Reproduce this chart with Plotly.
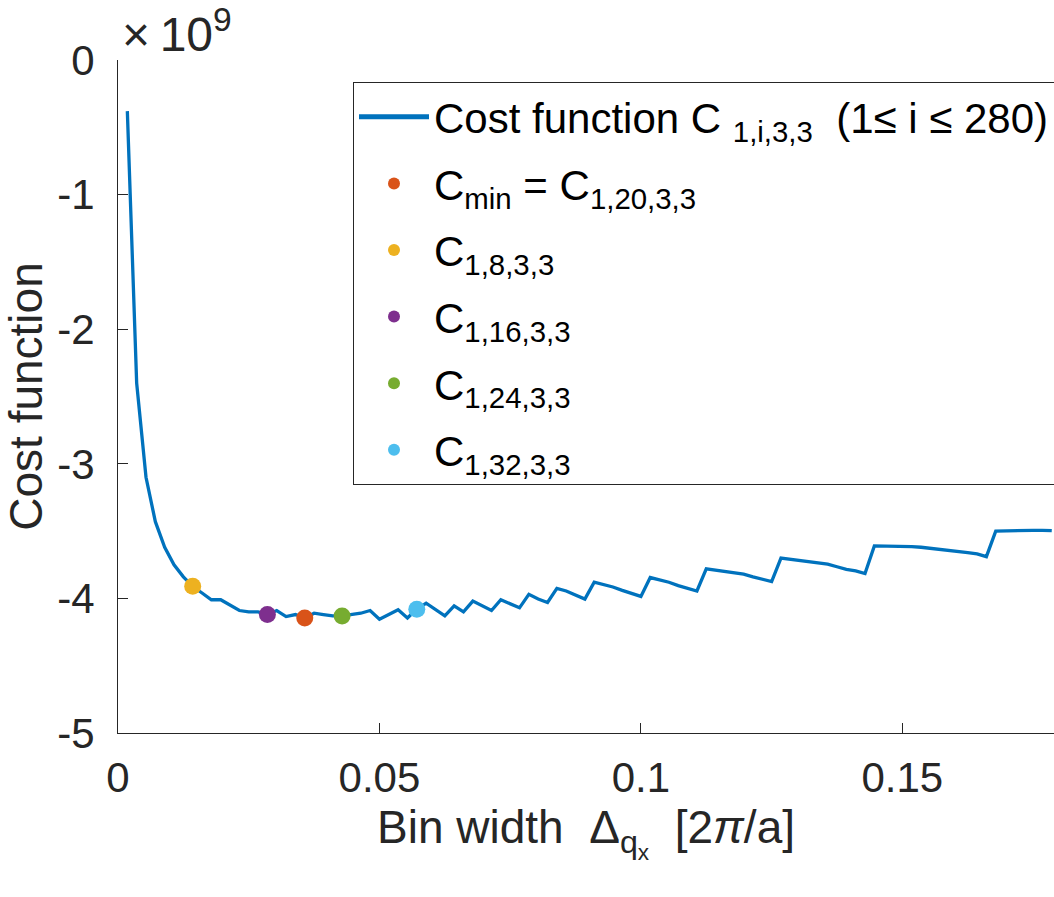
import plotly.graph_objects as go

# Bin width Δq_x [2π/a] for bin index i = 1..100 (visible part of 1..280)
bin_width = [
    0.001786, 0.003571, 0.005357, 0.007143, 0.008929, 0.010714, 0.012500, 0.014286, 0.016071, 0.017857,
    0.019643, 0.021429, 0.023214, 0.025000, 0.026786, 0.028571, 0.030357, 0.032143, 0.033929, 0.035714,
    0.037500, 0.039286, 0.041071, 0.042857, 0.044643, 0.046429, 0.048214, 0.050000, 0.051786, 0.053571,
    0.055357, 0.057143, 0.058929, 0.060714, 0.062500, 0.064286, 0.066071, 0.067857, 0.069643, 0.071429,
    0.073214, 0.075000, 0.076786, 0.078571, 0.080357, 0.082143, 0.083929, 0.085714, 0.087500, 0.089286,
    0.091071, 0.092857, 0.094643, 0.096429, 0.098214, 0.100000, 0.101786, 0.103571, 0.105357, 0.107143,
    0.108929, 0.110714, 0.112500, 0.114286, 0.116071, 0.117857, 0.119643, 0.121429, 0.123214, 0.125000,
    0.126786, 0.128571, 0.130357, 0.132143, 0.133929, 0.135714, 0.137500, 0.139286, 0.141071, 0.142857,
    0.144643, 0.146429, 0.148214, 0.150000, 0.151786, 0.153571, 0.155357, 0.157143, 0.158929, 0.160714,
    0.162500, 0.164286, 0.166071, 0.167857, 0.169643, 0.171429, 0.173214, 0.175000, 0.176786, 0.178571,
]

# Cost function C_{1,i,3,3} in units of 1e9
cost_1e9 = [
    -0.38, -2.40, -3.10, -3.43, -3.62, -3.75, -3.84, -3.91, -3.96, -4.01,
    -4.01, -4.05, -4.09, -4.10, -4.10, -4.12, -4.09, -4.135, -4.12, -4.145,
    -4.11, -4.12, -4.13, -4.13, -4.12, -4.11, -4.09, -4.155, -4.12, -4.085,
    -4.145, -4.08, -4.035, -4.08, -4.13, -4.055, -4.10, -4.02, -4.055, -4.09,
    -4.01, -4.04, -4.07, -3.97, -4.005, -4.03, -3.925, -3.945, -3.975, -4.005,
    -3.88, -3.895, -3.915, -3.94, -3.965, -3.985, -3.845, -3.86, -3.88, -3.905,
    -3.925, -3.945, -3.78, -3.79, -3.80, -3.81, -3.82, -3.84, -3.86, -3.875,
    -3.70, -3.71, -3.72, -3.73, -3.735, -3.745, -3.765, -3.785, -3.795, -3.815,
    -3.61, -3.61, -3.61, -3.613, -3.615, -3.62, -3.628, -3.63, -3.64, -3.648,
    -3.66, -3.67, -3.69, -3.50, -3.497, -3.495, -3.494, -3.494, -3.494, -3.497,
]

# Highlighted bins: (bin index i, legend label, colour)
marker_bins = [20, 8, 16, 24, 32]
marker_labels = [
    "C<sub>min</sub> = C<sub>1,20,3,3</sub>",
    "C<sub>1,8,3,3</sub>",
    "C<sub>1,16,3,3</sub>",
    "C<sub>1,24,3,3</sub>",
    "C<sub>1,32,3,3</sub>",
]
marker_colors = ["#D95319", "#EDB120", "#7E2F8E", "#77AC30", "#4DBEEE"]

x_tickvals = [0, 0.05, 0.1, 0.15]
x_ticktext = ["0", "0.05", "0.1", "0.15"]
y_tickvals = [-5, -4, -3, -2, -1, 0]
y_ticktext = ["-5", "-4", "-3", "-2", "-1", "0"]

FONT = "Liberation Sans, Arial, Helvetica, sans-serif"
AXC = "#262626"

fig = go.Figure()
fig.add_trace(go.Scatter(
    x=bin_width, y=cost_1e9, mode="lines",
    line=dict(color="#0072BD", width=3.3),
    name="Cost function C\u00a0<sub>1,i,3,3</sub>\u00a0\u00a0(1\u2264 i \u2264 280)",
    legendgroup="g0",
))
for k, (b, lab, col) in enumerate(zip(marker_bins, marker_labels, marker_colors)):
    fig.add_trace(go.Scatter(
        x=[bin_width[b - 1]], y=[cost_1e9[b - 1]], mode="markers",
        marker=dict(color=col, size=17, line=dict(width=0)),
        name=lab, legendgroup=f"g{k+1}",
    ))

fig.update_layout(
    width=1054, height=897,
    margin=dict(l=118, r=0, t=60, b=164, pad=0, autoexpand=False),
    paper_bgcolor="white", plot_bgcolor="white",
    font=dict(family=FONT, color=AXC),
    showlegend=True,
    legend=dict(
        x=(353 - 118) / 936, y=(733 - 82) / 673, xanchor="left", yanchor="top",
        bgcolor="white", bordercolor=AXC, borderwidth=1,
        font=dict(family=FONT, size=42, color="black"),
        traceorder="grouped", tracegroupgap=9,
        itemsizing="constant", itemwidth=70,
    ),
    xaxis=dict(
        range=[0, 0.179], tickvals=x_tickvals, ticktext=x_ticktext,
        showline=True, linecolor=AXC, linewidth=1, mirror=False,
        ticks="inside", ticklen=10, tickcolor=AXC, tickwidth=1,
        showgrid=False, zeroline=False, automargin=False, tickangle=0,
        tickfont=dict(size=42, color=AXC), ticklabelstandoff=8,
        title=dict(text="Bin width \u00a0\u0394<sub>q<sub>x</sub></sub>\u00a0 [2<i>\u03c0</i>/a]",
                   font=dict(size=46, color=AXC), standoff=10),
    ),
    yaxis=dict(
        range=[-5, 0], tickvals=y_tickvals, ticktext=y_ticktext,
        showline=True, linecolor=AXC, linewidth=1, mirror=False,
        ticks="inside", ticklen=10, tickcolor=AXC, tickwidth=1,
        showgrid=False, zeroline=False, automargin=False,
        tickfont=dict(size=42, color=AXC), ticklabelstandoff=14,
        title=dict(text="Cost function", font=dict(size=46, color=AXC), standoff=12),
    ),
    annotations=[dict(
        text="\u00d7\u200910<sup>9</sup>", xref="paper", yref="paper", x=0, y=1,
        xanchor="left", yanchor="bottom", showarrow=False,
        font=dict(family=FONT, size=48, color=AXC), xshift=2, yshift=-3,
    )],
)

fig.write_html("out.html")
